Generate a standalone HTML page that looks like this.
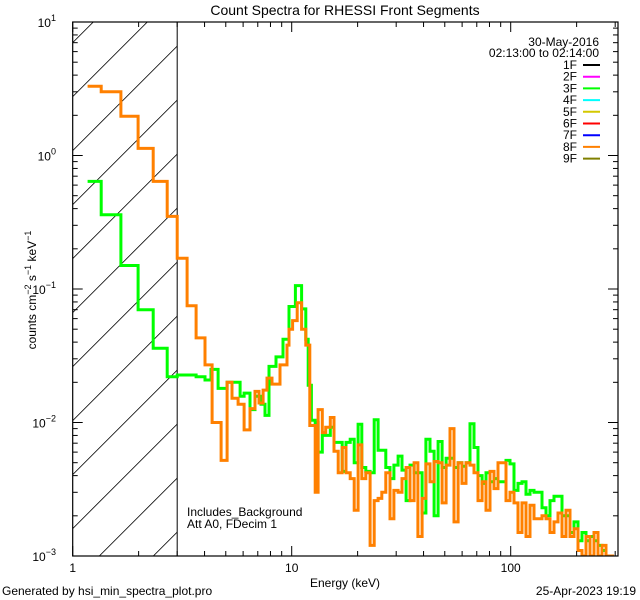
<!DOCTYPE html>
<html><head><meta charset="utf-8"><style>
html,body{margin:0;padding:0;background:#fff;}
svg{display:block;font-family:"Liberation Sans",sans-serif;}
</style></head><body>
<svg id="chart" width="640" height="600" viewBox="0 0 640 600" xmlns="http://www.w3.org/2000/svg">
<rect width="640" height="600" fill="#fff"/>
<text x="345" y="15" font-size="14" text-anchor="middle">Count Spectra for RHESSI Front Segments</text>
<g id="hatch"></g>
<g id="series"></g>
<g id="axes"></g>
<text transform="translate(36,290) rotate(-90)" font-size="12" text-anchor="middle">counts cm<tspan dy="-5" font-size="9">−2</tspan><tspan dy="5"> s</tspan><tspan dy="-5" font-size="9">−1</tspan><tspan dy="5"> keV</tspan><tspan dy="-5" font-size="9">−1</tspan></text>
<text x="345" y="587" font-size="12" text-anchor="middle">Energy (keV)</text>
<text x="187" y="516" font-size="12">Includes_Background</text>
<text x="187" y="528" font-size="12">Att A0, FDecim 1</text>
<text x="2" y="595" font-size="12">Generated by hsi_min_spectra_plot.pro</text>
<text x="636" y="595" font-size="12" text-anchor="end">25-Apr-2023 19:19</text>
<text x="599" y="46" font-size="12" text-anchor="end">30-May-2016</text>
<text x="599" y="57" font-size="12" text-anchor="end">02:13:00 to 02:14:00</text>
<g id="legend"></g>
</svg>
<script>
const xMin = 1, xMax = 309, yMin = 0.001, yMax = 10;
const xTickLabels = ["1","10","100"];
const xTickValues = [1,10,100];
const yTickValues = [10,1,0.1,0.01,0.001];
const yTickExp = ["1","0","−1","−2","−3"];
const legendLabels = ["1F","2F","3F","4F","5F","6F","7F","8F","9F"];
const legendColors = ["#000000","#ff00ff","#00ff00","#00ffff","#d4c800","#ff0000","#0000ff","#ff8000","#808000"];

const lowEdges3F = [1.17,1.35,1.66,1.99,2.33,2.70,3.0,3.66,4.02,4.28,4.61,5.07,5.81,6.06,6.45,6.80,7.24,7.55,7.88,8.48,9.13,9.72,10.4,11.1,11.6,11.9,12.3,12.8];
const lowValues3F = [0.64,0.36,0.150,0.070,0.036,0.022,0.0227,0.022,0.0208,0.025,0.018,0.020,0.0157,0.0166,0.0125,0.0157,0.0137,0.0113,0.0263,0.031,0.042,0.074,0.106,0.071,0.042,0.019,0.0104];
const lowEdges8F = [1.17,1.35,1.66,1.99,2.33,2.70,3.0,3.33,3.66,4.02,4.33,4.76,5.07,5.34,5.69,6.06,6.45,6.80,7.09,7.40,7.71,8.13,8.84,9.52,9.72,10.1,10.6,11.1,11.6,12.1,12.8];
const lowValues8F = [3.3,3.0,1.97,1.13,0.64,0.35,0.17,0.075,0.043,0.027,0.010,0.0052,0.020,0.0152,0.0137,0.0088,0.0127,0.0171,0.014,0.0175,0.0215,0.0194,0.027,0.038,0.050,0.058,0.079,0.050,0.038,0.0095];
const highEdges = [12.8,13.2,13.8,14.3,15.0,15.6,16.3,17.0,17.7,18.5,19.3,20.1,20.9,21.8,22.8,23.8,24.8,25.8,26.9,28.1,29.3,30.6,31.9,33.3,34.7,36.2,37.7,39.4,41.0,42.8,44.7,46.6,48.6,50.7,52.8,55.1,57.5,59.9,62.5,65.2,68.0,70.9,74.0,77.1,80.4,83.9,87.5,91.3,95.2,99.3,103.5,108,112.6,117.5,122.5,127.8,133.3,139.0,145.0,151.2,157.7,164.4,171.5,178.8,186.6,194.5,202.9,211.6,220.7,230.2,240.1,250.4,261.1,272.4,284.0,296.3];
const highValues3F = [0.0100,0.0060,0.0080,0.0080,0.0092,0.0071,0.0071,0.0043,0.0071,0.0075,0.0050,0.0097,0.0046,0.0043,0.0042,0.0105,0.0062,0.0062,0.0046,0.0038,0.0048,0.0056,0.0044,0.0026,0.0048,0.0042,0.0042,0.0021,0.0075,0.0061,0.0020,0.0072,0.0046,0.0054,0.0054,0.0046,0.0050,0.0047,0.0050,0.0098,0.0065,0.0040,0.0035,0.0042,0.0036,0.0038,0.0036,0.0036,0.0052,0.0049,0.0031,0.0035,0.0036,0.0029,0.0031,0.0030,0.0030,0.0023,0.0020,0.0026,0.0028,0.0028,0.0020,0.0020,0.0015,0.0018,0.0013,0.0015,0.0013,0.0014,0.0013,0.0012,0.0011,0.0010,0.0010];
const highValues8F = [0.0030,0.0125,0.0084,0.0092,0.0109,0.0061,0.0042,0.0065,0.0042,0.0038,0.0022,0.0068,0.0038,0.0042,0.0012,0.0026,0.0027,0.0030,0.0042,0.0019,0.0031,0.0030,0.0038,0.0046,0.0026,0.0050,0.0014,0.0027,0.0049,0.0036,0.0051,0.0050,0.0025,0.0048,0.0090,0.0018,0.0050,0.0035,0.0050,0.0048,0.0042,0.0026,0.0036,0.0022,0.0043,0.0032,0.0050,0.0050,0.0026,0.0030,0.0025,0.0015,0.0025,0.0014,0.0024,0.0019,0.0019,0.0020,0.0019,0.0015,0.0018,0.0021,0.0014,0.0022,0.0014,0.0016,0.0011,0.0010,0.0014,0.0010,0.0015,0.0010,0.0012,0.0010,0.0010];

const L = 72.7, R = 618, T = 22, B = 556;
const NS = "http://www.w3.org/2000/svg";
function xs(e){ return L + (Math.log10(e) - Math.log10(xMin)) / (Math.log10(xMax) - Math.log10(xMin)) * (R - L); }
function ys(v){ const c = Math.max(v, yMin); return B - (Math.log10(c) - Math.log10(yMin)) / (Math.log10(yMax) - Math.log10(yMin)) * (B - T); }
function mk(tag, attrs, parent){ const el = document.createElementNS(NS, tag); for (const k in attrs) el.setAttribute(k, attrs[k]); parent.appendChild(el); return el; }

// hatch
const hatch = document.getElementById('hatch');
const clip = mk('clipPath', {id:'hclip'}, hatch);
mk('rect', {x:L, y:T, width:xs(3)-L, height:B-T}, clip);
const hg = mk('g', {'clip-path':'url(#hclip)'}, hatch);
for (let k = -2; k < 14; k++) {
  const x0 = 99.3 - k*54;
  const hl = mk('line', {x1:x0, y1:B, x2:x0+600, y2:B-600, stroke:'#000', 'stroke-width':0.8}, hg);
  
  
}
const vline = mk('line', {x1:xs(3), y1:T, x2:xs(3), y2:B, stroke:'#000', 'stroke-width':1}, hatch);



// series
function stepPath(edges, vals){
  let d = '';
  for (let i = 0; i < vals.length; i++) {
    const x0 = xs(edges[i]), x1 = xs(edges[i+1]), y = ys(vals[i]);
    d += (i === 0 ? 'M' : 'L') + x0.toFixed(1) + ',' + y.toFixed(1) + 'L' + x1.toFixed(1) + ',' + y.toFixed(1);
  }
  return d;
}
const sg = document.getElementById('series');
const sclip = mk('clipPath', {id:'pclip'}, sg);
mk('rect', {x:L, y:T, width:R-L, height:B-T}, sclip);
const p3 = mk('path', {d: stepPath(lowEdges3F, lowValues3F) + stepPath(highEdges, highValues3F).replace(/^M/, 'L'), fill:'none', stroke:'#00ff00', 'stroke-width':3, 'clip-path':'url(#pclip)'}, sg);


const p8 = mk('path', {d: stepPath(lowEdges8F, lowValues8F) + stepPath(highEdges, highValues8F).replace(/^M/, 'L'), fill:'none', stroke:'#ff8000', 'stroke-width':3, 'clip-path':'url(#pclip)'}, sg);



// axes
const ax = document.getElementById('axes');
const frame = mk('rect', {x:L, y:T, width:R-L, height:B-T, fill:'none', stroke:'#000', 'stroke-width':1.2}, ax);


for (let dec = 1; dec <= 100; dec *= 10) {
  for (let m = 1; m <= 9; m++) {
    const e = dec*m; if (e > xMax) break;
    const x = xs(e), len = m === 1 ? 10 : 5;
    const t1 = mk('line', {x1:x, y1:B, x2:x, y2:B-len, stroke:'#000'}, ax);
    
    
    const t2 = mk('line', {x1:x, y1:T, x2:x, y2:T+len, stroke:'#000'}, ax);
    
    
  }
}
xTickValues.forEach((v, i) => {
  const t = mk('text', {x:xs(v), y:572, 'font-size':12, 'text-anchor':'middle'}, ax);
  t.textContent = xTickLabels[i];
  
  
});
for (let dec = 0.001; dec < 10; dec *= 10) {
  for (let m = 1; m <= 9; m++) {
    const v = dec*m, y = ys(v), len = m === 1 ? 10 : 5;
    const t1 = mk('line', {x1:L, y1:y, x2:L+len, y2:y, stroke:'#000'}, ax);
    
    
    const t2 = mk('line', {x1:R, y1:y, x2:R-len, y2:y, stroke:'#000'}, ax);
    
    
  }
}
yTickValues.forEach((v, i) => {
  const y = ys(v);
  const t = mk('text', {x:56, y:y+5, 'font-size':12, 'text-anchor':'end'}, ax);
  
  
  const a = mk('tspan', {}, t); a.textContent = '10';
  const b = mk('tspan', {dy:-6, 'font-size':9}, t); b.textContent = yTickExp[i];
});

// legend
const lg = document.getElementById('legend');
legendLabels.forEach((lab, i) => {
  const y = 65 + i*11.7;
  const t = mk('text', {x:577, y:y+4, 'font-size':12, 'text-anchor':'end'}, lg);
  t.textContent = lab;
  
  
  const l = mk('line', {x1:583, y1:y, x2:600, y2:y, stroke:legendColors[i], 'stroke-width':2}, lg);
  
  
});
</script>
</body></html>
